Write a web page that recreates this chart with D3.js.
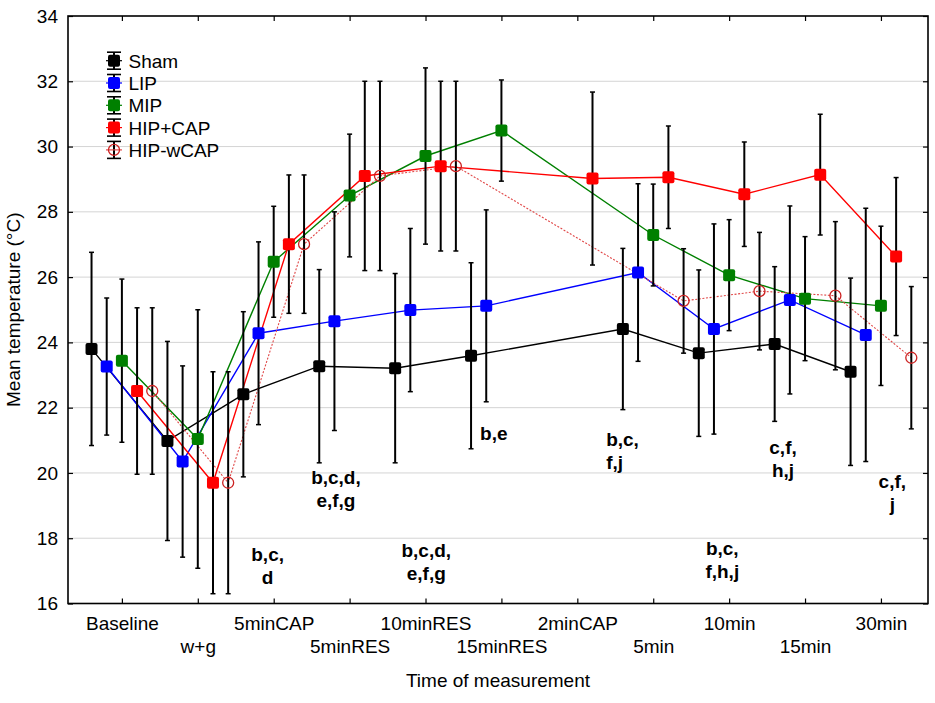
<!DOCTYPE html>
<html>
<head>
<meta charset="utf-8">
<script src="https://cdn.jsdelivr.net/npm/d3@7"></script>
<style>
  body { margin: 0; background: #fff; }
  svg { display: block; font-family: "Liberation Sans", Arial, sans-serif; }
</style>
</head>
<body>
<div id="chart"></div>
<script>
// categories along the x axis
const categories = ["Baseline", "w+g", "5minCAP", "5minRES", "10minRES", "15minRES",
  "2minCAP", "5min", "10min", "15min", "30min"];

// series means and error (half-length of bars), null = not measured
const shamMean = [23.80, 20.98, 22.41, 23.27, 23.21, 23.59, null, 24.41, 23.67, 23.95, 23.10];
const shamErr  = [2.96, 3.05, 2.53, 2.96, 2.90, 2.85, null, 2.47, 2.55, 2.37, 2.87];
const lipMean  = [23.26, 20.35, 24.28, 24.65, 24.99, 25.12, null, 26.14, 24.41, 25.30, 24.23];
const lipErr   = [2.10, 2.93, 2.80, 3.35, 2.50, 2.94, null, 2.72, 3.22, 2.88, 3.88];
const mipMean  = [23.44, 21.04, 26.47, 28.50, 29.71, 30.49, null, 27.29, 26.06, 25.34, 25.12];
const mipErr   = [2.50, 3.96, 1.70, 1.88, 2.70, 1.55, null, 1.56, 1.70, 1.90, 2.44];
const hipCapMean = [22.51, 19.70, 27.01, 29.10, 29.40, null, 29.02, 29.06, 28.54, 29.14, 26.63];
const hipCapErr  = [2.55, 3.40, 2.12, 2.90, 2.60, null, 2.65, 1.57, 1.60, 1.85, 2.42];
const hipWMean = [22.51, 19.70, 27.01, 29.10, 29.40, null, null, 25.27, 25.57, 25.43, 23.53];
const hipWErr  = [2.55, 3.40, 2.12, 2.90, 2.60, null, null, 1.60, 1.80, 2.27, 2.18];

const seriesNames = ["Sham", "LIP", "MIP", "HIP+CAP", "HIP-wCAP"];
const yTicks = [16, 18, 20, 22, 24, 26, 28, 30, 32, 34];

// significance notes: [category position, value at first baseline, lines, anchor]
const notes = [
  [1.92, 17.30, ["b,c,", "d"], "middle"],
  [2.82, 19.66, ["b,c,d,", "e,f,g"], "middle"],
  [4.01, 17.43, ["b,c,d,", "e,f,g"], "middle"],
  [4.90, 21.01, ["b,e"], "middle"],
  [6.38, 20.83, ["b,c,", "f,j"], "start"],
  [7.91, 17.49, ["b,c,", "f,h,j"], "middle"],
  [8.71, 20.58, ["c,f,", "h,j"], "middle"],
  [10.15, 19.54, ["c,f,", "j"], "middle"]
];

const series = [
  { name: seriesNames[0], mean: shamMean, err: shamErr, color: "#000000", off: -0.4 },
  { name: seriesNames[1], mean: lipMean, err: lipErr, color: "#0000ff", off: -0.2 },
  { name: seriesNames[2], mean: mipMean, err: mipErr, color: "#008000", off: 0 },
  { name: seriesNames[3], mean: hipCapMean, err: hipCapErr, color: "#ff0000", off: 0.2 },
  { name: seriesNames[4], mean: hipWMean, err: hipWErr, color: "#cc2222", off: 0.4, open: true }
];

const width = 935, height = 703;
const plotLeft = 68, plotRight = 928, plotTop = 16, plotBottom = 603.5;

const svg = d3.select("#chart").append("svg")
  .attr("width", width)
  .attr("height", height);

const x = d3.scaleLinear().domain([-0.71, 10.62]).range([plotLeft, plotRight]);
const y = d3.scaleLinear().domain([16, 34]).range([plotBottom, plotTop]);

// grid
svg.append("g")
  .selectAll("line")
  .data(yTicks.filter(t => t > 16 && t < 34))
  .enter()
  .append("line")
  .attr("x1", plotLeft).attr("x2", plotRight)
  .attr("y1", d => y(d)).attr("y2", d => y(d))
  .attr("stroke", "#d4d4d4")
  .attr("stroke-width", 1);

// axes with inward ticks
const fontSize = 19;
const yAxis = svg.append("g")
  .attr("transform", `translate(${plotLeft},0)`)
  .call(d3.axisLeft(y).tickValues(yTicks).tickSizeInner(-5).tickSizeOuter(0).tickPadding(10));
yAxis.selectAll("text").attr("font-size", fontSize).attr("fill", "#000");

svg.append("g")
  .attr("transform", `translate(${plotRight},0)`)
  .call(d3.axisRight(y).tickValues(yTicks).tickSizeInner(-5).tickSizeOuter(0).tickFormat(""));

const xAxis = svg.append("g")
  .attr("transform", `translate(0,${plotBottom})`)
  .call(d3.axisBottom(x).tickValues(d3.range(categories.length))
    .tickSizeInner(-5).tickSizeOuter(0).tickFormat(i => categories[i]));
xAxis.selectAll("text")
  .attr("font-size", fontSize)
  .attr("fill", "#000")
  .attr("dy", null)
  .attr("y", (d, i) => i % 2 === 0 ? 26.5 : 49.8);

svg.append("g")
  .attr("transform", `translate(0,${plotTop})`)
  .call(d3.axisTop(x).tickValues(d3.range(categories.length))
    .tickSizeInner(-5).tickSizeOuter(0).tickFormat(""));

svg.selectAll(".domain").remove();
svg.selectAll(".tick line").attr("stroke", "#000").attr("stroke-width", 1.2);

// frame
svg.append("rect")
  .attr("x", plotLeft).attr("y", plotTop)
  .attr("width", plotRight - plotLeft).attr("height", plotBottom - plotTop)
  .attr("fill", "none")
  .attr("stroke", "#000")
  .attr("stroke-width", 1.6);

// titles
svg.append("text")
  .attr("x", (plotLeft + plotRight) / 2)
  .attr("y", 687)
  .attr("text-anchor", "middle")
  .attr("font-size", fontSize)
  .text("Time of measurement");

svg.append("text")
  .attr("transform", `translate(19.5,${(plotTop + plotBottom) / 2}) rotate(-90)`)
  .attr("text-anchor", "middle")
  .attr("font-size", fontSize)
  .text("Mean temperature (°C)");

// points per series
const pts = s => s.mean
  .map((v, i) => ({ i: i, v: v, e: s.err[i] }))
  .filter(d => d.v != null);

const line = off => d3.line().x(d => x(d.i + off)).y(d => y(d.v));

const plot = svg.append("g");

series.forEach(s => {
  plot.append("path")
    .datum(pts(s))
    .attr("d", line(s.off))
    .attr("fill", "none")
    .attr("stroke", s.open ? "#e04848" : s.color)
    .attr("stroke-width", s.open ? 1.1 : 1.4)
    .attr("stroke-dasharray", s.open ? "2,1.6" : null);
});

// error bars
series.forEach(s => {
  const g = plot.append("g");
  const d = pts(s);
  g.selectAll("line.bar").data(d).enter().append("line")
    .attr("x1", p => x(p.i + s.off)).attr("x2", p => x(p.i + s.off))
    .attr("y1", p => y(p.v + p.e)).attr("y2", p => y(p.v - p.e))
    .attr("stroke", "#000").attr("stroke-width", 2);
  [1, -1].forEach(sign => {
    g.selectAll(null).data(d).enter().append("line")
      .attr("x1", p => x(p.i + s.off) - 2.5).attr("x2", p => x(p.i + s.off) + 2.5)
      .attr("y1", p => y(p.v + sign * p.e)).attr("y2", p => y(p.v + sign * p.e))
      .attr("stroke", "#000").attr("stroke-width", 1.5);
  });
});

// markers
function marker(g, cx, cy, s) {
  if (s.open) {
    g.append("circle")
      .attr("cx", cx).attr("cy", cy).attr("r", 5.5)
      .attr("fill", "none")
      .attr("stroke", s.color)
      .attr("stroke-width", 1.3);
  } else {
    g.append("rect")
      .attr("x", cx - 6).attr("y", cy - 6)
      .attr("width", 12).attr("height", 12)
      .attr("rx", 2)
      .attr("fill", s.color);
  }
}

series.forEach(s => {
  const g = plot.append("g");
  pts(s).forEach(p => marker(g, x(p.i + s.off), y(p.v), s));
});

// legend
const legend = svg.append("g");
series.forEach((s, k) => {
  const ly = 60.7 + k * 22.3;
  const lx = 114;
  legend.append("line")
    .attr("x1", lx).attr("x2", lx)
    .attr("y1", ly - 8.5).attr("y2", ly + 8.5)
    .attr("stroke", "#000").attr("stroke-width", 2);
  [-8.5, 8.5].forEach(dy => {
    legend.append("line")
      .attr("x1", lx - 7).attr("x2", lx + 7)
      .attr("y1", ly + dy).attr("y2", ly + dy)
      .attr("stroke", "#000").attr("stroke-width", 1.6);
  });
  legend.append("line")
    .attr("x1", lx - 8).attr("x2", lx + 8)
    .attr("y1", ly).attr("y2", ly)
    .attr("stroke", s.open ? "#e04848" : s.color)
    .attr("stroke-width", 1.2);
  marker(legend, lx, ly, s);
  legend.append("text")
    .attr("x", 128.5)
    .attr("y", ly + 7)
    .attr("font-size", fontSize)
    .text(s.name);
});

// significance notes
const noteG = svg.append("g");
notes.forEach(n => {
  const t = noteG.append("text")
    .attr("x", x(n[0]))
    .attr("y", y(n[1]))
    .attr("text-anchor", n[3])
    .attr("font-size", fontSize)
    .attr("font-weight", "bold");
  n[2].forEach((s, k) => {
    t.append("tspan")
      .attr("x", x(n[0]))
      .attr("dy", k === 0 ? 0 : 23)
      .text(s);
  });
});
</script>
</body>
</html>
